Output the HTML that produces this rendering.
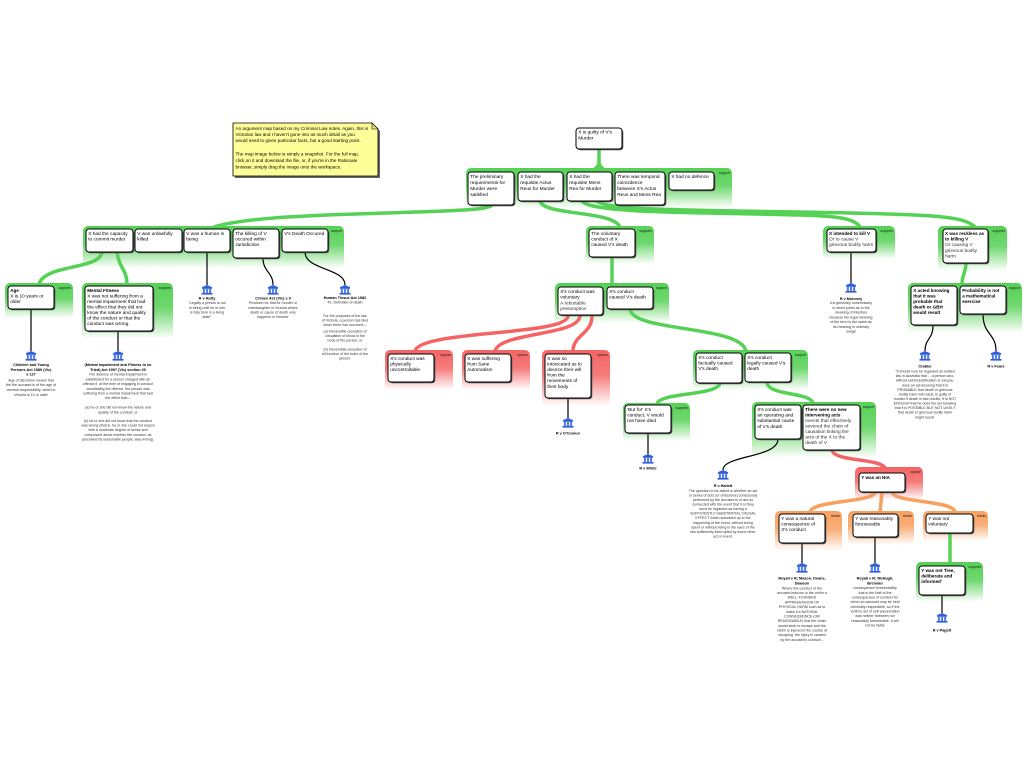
<!DOCTYPE html>
<html>
<head>
<meta charset="utf-8">
<style>
html,body{margin:0;padding:0;background:#fff;}
svg{display:block;}
.t{font-family:"Liberation Sans",sans-serif;font-size:4.8px;fill:#000;}
.b{font-weight:bold;font-size:4.6px;}
.e{font-family:"Liberation Sans",sans-serif;font-size:3.6px;fill:#333;text-anchor:middle;}
.eb{font-family:"Liberation Sans",sans-serif;font-size:3.8px;fill:#000;font-weight:bold;text-anchor:middle;}
.lab{font-family:"Liberation Sans",sans-serif;font-size:3.3px;fill:#222;text-anchor:end;}
.note{font-family:"Liberation Sans",sans-serif;font-size:4.6px;fill:#000;}
.box{fill:#fff;stroke:#000;stroke-width:1;}
.sh{fill:#555;}
.cg{fill:none;stroke:#55d155;stroke-width:3.5;stroke-linecap:round;}
.cr{fill:none;stroke:#f46464;stroke-width:3.5;stroke-linecap:round;}
.co{fill:none;stroke:#f8a060;stroke-width:3.5;stroke-linecap:round;}
.bl{fill:none;stroke:#000;stroke-width:1.2;}
</style>
</head>
<body>
<svg width="1024" height="768" viewBox="0 0 1024 768" xmlns="http://www.w3.org/2000/svg">
<defs>
<linearGradient id="gG" x1="0" y1="0" x2="0" y2="1">
<stop offset="0" stop-color="#55d155" stop-opacity="1"/>
<stop offset="0.45" stop-color="#55d155" stop-opacity="0.85"/>
<stop offset="1" stop-color="#55d155" stop-opacity="0"/>
</linearGradient>
<linearGradient id="gR" x1="0" y1="0" x2="0" y2="1">
<stop offset="0" stop-color="#f46464" stop-opacity="1"/>
<stop offset="0.45" stop-color="#f46464" stop-opacity="0.85"/>
<stop offset="1" stop-color="#f46464" stop-opacity="0"/>
</linearGradient>
<linearGradient id="gO" x1="0" y1="0" x2="0" y2="1">
<stop offset="0" stop-color="#f8a060" stop-opacity="1"/>
<stop offset="0.45" stop-color="#f8a060" stop-opacity="0.85"/>
<stop offset="1" stop-color="#f8a060" stop-opacity="0"/>
</linearGradient>
<g id="ic">
<rect x="-5" y="-4.5" width="10" height="9" fill="#e6eeff"/>
<path d="M-5.5,-2.5 L0,-5 L5.5,-2.5 Z" fill="#2f5fd6"/>
<rect x="-5" y="-2.6" width="10" height="1.4" fill="#2f5fd6"/>
<rect x="-4" y="-1" width="1.8" height="4" fill="#4a78e0"/>
<rect x="-0.9" y="-1" width="1.8" height="4" fill="#4a78e0"/>
<rect x="2.2" y="-1" width="1.8" height="4" fill="#4a78e0"/>
<rect x="-5.5" y="3" width="11" height="1.6" fill="#2f5fd6"/>
</g>
</defs>
<rect width="1024" height="768" fill="#fff"/>

<!-- BANDS -->
<rect x="466" y="168" width="266" height="40" rx="5" fill="url(#gG)"/>
<rect x="83" y="226" width="261" height="42" rx="5" fill="url(#gG)"/>
<rect x="5" y="283" width="68" height="35" rx="5" fill="url(#gG)"/>
<rect x="82" y="283" width="91" height="56" rx="5" fill="url(#gG)"/>
<rect x="586" y="226" width="68" height="38" rx="5" fill="url(#gG)"/>
<rect x="555" y="283" width="114" height="40" rx="5" fill="url(#gG)"/>
<rect x="385" y="350" width="68" height="40" rx="5" fill="url(#gR)"/>
<rect x="462" y="350" width="68" height="40" rx="5" fill="url(#gR)"/>
<rect x="542" y="350" width="68" height="56" rx="5" fill="url(#gR)"/>
<rect x="693" y="350" width="115" height="40" rx="5" fill="url(#gG)"/>
<rect x="623" y="403" width="67" height="38" rx="5" fill="url(#gG)"/>
<rect x="752" y="402" width="124" height="56" rx="5" fill="url(#gG)"/>
<rect x="855" y="467" width="68" height="33" rx="5" fill="url(#gR)"/>
<rect x="775" y="511" width="67" height="40" rx="5" fill="url(#gO)"/>
<rect x="848" y="511" width="66" height="34" rx="5" fill="url(#gO)"/>
<rect x="923" y="511" width="65" height="30" rx="5" fill="url(#gO)"/>
<rect x="916" y="562" width="67" height="40" rx="5" fill="url(#gG)"/>
<rect x="823" y="226" width="72" height="33" rx="5" fill="url(#gG)"/>
<rect x="938" y="226" width="69" height="45" rx="5" fill="url(#gG)"/>
<rect x="908" y="283" width="114" height="50" rx="5" fill="url(#gG)"/>

<!-- band labels -->
<text class="lab" x="730" y="174">support</text>
<text class="lab" x="342" y="232">support</text>
<text class="lab" x="71" y="289">supports</text>
<text class="lab" x="171" y="289">supports</text>
<text class="lab" x="652" y="232">supports</text>
<text class="lab" x="667" y="289">support</text>
<text class="lab" x="451" y="356">oppose</text>
<text class="lab" x="528" y="356">oppose</text>
<text class="lab" x="608" y="356">oppose</text>
<text class="lab" x="806" y="356">support</text>
<text class="lab" x="688" y="409">supports</text>
<text class="lab" x="874" y="408">support</text>
<text class="lab" x="921" y="473">oppose</text>
<text class="lab" x="840" y="517">rebuts</text>
<text class="lab" x="912" y="517">rebuts</text>
<text class="lab" x="986" y="517">rebuts</text>
<text class="lab" x="981" y="568">supports</text>
<text class="lab" x="893" y="232">supports</text>
<text class="lab" x="1005" y="232">supports</text>
<text class="lab" x="1020" y="289">support</text>

<!-- CONNECTORS -->
<path class="cg" d="M599,149 L599,169"/>
<path d="M592,169 Q598,165 598,160 L600,160 Q600,165 606,169 Z" fill="#55d155"/>
<path class="cg" d="M492,205 C488,216 270,209 214,227"/>
<path class="cg" d="M540,201 C544,216 612,210 620,227"/>
<path class="cg" d="M582,201 C592,214 700,212 800,215 C840,216 855,219 860,227"/>
<path class="cg" d="M597,201 C606,211 700,210 850,213 C940,215 965,217 975,227"/>
<path class="cg" d="M102,252 C100,270 45,264 39,284"/>
<path class="cg" d="M117,252 C119,268 127,270 127,284"/>
<path class="cg" d="M612,257 L612,284"/>
<path class="cr" d="M568,316 C566,336 420,330 415,351"/>
<path class="cr" d="M580,316 C578,336 500,332 495,351"/>
<path class="cr" d="M592,316 C592,334 573,335 573,351"/>
<path d="M564,316 L572,316 L568,312 Z" fill="#f46464"/>
<path d="M576,316 L584,316 L580,312 Z" fill="#f46464"/>
<path d="M588,316 L596,316 L592,312 Z" fill="#f46464"/>
<path class="cg" d="M630,309 C632,332 740,325 746,351"/>
<path class="cg" d="M720,383 C718,396 660,392 657,404"/>
<path class="cg" d="M767,383 C770,396 810,392 813,403"/>
<path class="cr" d="M832,450 C834,462 880,458 885,468"/>
<path class="co" d="M875,492 C873,503 812,500 810,512"/>
<path class="co" d="M882,492 L880,512"/>
<path class="co" d="M892,492 C894,503 953,500 955,512"/>
<path class="cg" d="M950,533 L950,563"/>
<path class="cg" d="M966,263 C966,272 962,275 962,284"/>

<!-- BLACK LINES -->
<path class="bl" d="M31,309 L31,351"/>
<path class="bl" d="M118,331 L118,351"/>
<path class="bl" d="M207,252 L207,285"/>
<path class="bl" d="M263,258 C263,272 273,272 273,285"/>
<path class="bl" d="M305,252 C305,270 345,268 345,285"/>
<path class="bl" d="M568,398 L568,418"/>
<path class="bl" d="M648,433 L648,454"/>
<path class="bl" d="M778,439 C778,458 723,455 723,470"/>
<path class="bl" d="M802,543 L802,563"/>
<path class="bl" d="M875,537 L875,563"/>
<path class="bl" d="M942,595 L942,613"/>
<path class="bl" d="M851,252 L851,283"/>
<path class="bl" d="M933,325 C933,340 925,338 925,351"/>
<path class="bl" d="M983,314 C983,335 996,333 996,351"/>

<!-- ICONS -->
<use href="#ic" x="31" y="356"/>
<use href="#ic" x="118" y="356"/>
<use href="#ic" x="207" y="290"/>
<use href="#ic" x="273" y="290"/>
<use href="#ic" x="345" y="290"/>
<use href="#ic" x="568" y="423"/>
<use href="#ic" x="648" y="459"/>
<use href="#ic" x="723" y="475"/>
<use href="#ic" x="802" y="568"/>
<use href="#ic" x="875" y="568"/>
<use href="#ic" x="942" y="618"/>
<use href="#ic" x="851" y="288"/>
<use href="#ic" x="925" y="356"/>
<use href="#ic" x="996" y="356"/>

<!-- BOXES (shadow + box) -->
<g>
<rect class="sh" x="577.3" y="129.3" width="46" height="21" rx="3"/><rect class="box" x="576" y="128" width="46" height="21" rx="3"/>
<rect class="sh" x="469.3" y="173.3" width="46" height="33" rx="3"/><rect class="box" x="468" y="172" width="46" height="33" rx="3"/>
<rect class="sh" x="519.3" y="173.3" width="45" height="29" rx="3"/><rect class="box" x="518" y="172" width="45" height="29" rx="3"/>
<rect class="sh" x="568.3" y="173.3" width="45" height="29" rx="3"/><rect class="box" x="567" y="172" width="45" height="29" rx="3"/>
<rect class="sh" x="616.3" y="173.3" width="50" height="33" rx="3"/><rect class="box" x="615" y="172" width="50" height="33" rx="3"/>
<rect class="sh" x="670.3" y="173.3" width="45" height="18" rx="3"/><rect class="box" x="669" y="172" width="45" height="18" rx="3"/>

<rect class="sh" x="87.3" y="230.3" width="47" height="23" rx="3"/><rect class="box" x="86" y="229" width="47" height="23" rx="3"/>
<rect class="sh" x="136.3" y="230.3" width="47" height="23" rx="3"/><rect class="box" x="135" y="229" width="47" height="23" rx="3"/>
<rect class="sh" x="185.3" y="230.3" width="46" height="23" rx="3"/><rect class="box" x="184" y="229" width="46" height="23" rx="3"/>
<rect class="sh" x="234.3" y="230.3" width="46" height="29" rx="3"/><rect class="box" x="233" y="229" width="46" height="29" rx="3"/>
<rect class="sh" x="283.3" y="230.3" width="46" height="23" rx="3"/><rect class="box" x="282" y="229" width="46" height="23" rx="3"/>

<rect class="sh" x="9.3" y="287.3" width="46" height="23" rx="3"/><rect class="box" x="8" y="286" width="46" height="23" rx="3"/>
<rect class="sh" x="86.3" y="287.3" width="68" height="45" rx="3"/><rect class="box" x="85" y="286" width="68" height="45" rx="3"/>

<rect class="sh" x="590.3" y="230.3" width="46" height="28" rx="3"/><rect class="box" x="589" y="229" width="46" height="28" rx="3"/>
<rect class="sh" x="559.3" y="288.3" width="45" height="28" rx="3"/><rect class="box" x="558" y="287" width="45" height="28" rx="3"/>
<rect class="sh" x="608.3" y="288.3" width="46" height="22" rx="3"/><rect class="box" x="607" y="287" width="46" height="22" rx="3"/>
<rect class="sh" x="389.3" y="355.3" width="46" height="28" rx="3"/><rect class="box" x="388" y="354" width="46" height="28" rx="3"/>
<rect class="sh" x="466.3" y="355.3" width="46" height="28" rx="3"/><rect class="box" x="465" y="354" width="46" height="28" rx="3"/>
<rect class="sh" x="546.3" y="355.3" width="46" height="44" rx="3"/><rect class="box" x="545" y="354" width="46" height="44" rx="3"/>
<rect class="sh" x="697.3" y="354.3" width="46" height="30" rx="3"/><rect class="box" x="696" y="353" width="46" height="30" rx="3"/>
<rect class="sh" x="746.3" y="354.3" width="46" height="29" rx="3"/><rect class="box" x="745" y="353" width="46" height="29" rx="3"/>
<rect class="sh" x="626.3" y="406.3" width="46" height="28" rx="3"/><rect class="box" x="625" y="405" width="46" height="28" rx="3"/>
<rect class="sh" x="756.3" y="406.3" width="46" height="34" rx="3"/><rect class="box" x="755" y="405" width="46" height="34" rx="3"/>
<rect class="sh" x="804.3" y="406.3" width="57" height="45" rx="3"/><rect class="box" x="803" y="405" width="57" height="45" rx="3"/>
<rect class="sh" x="860.3" y="474.3" width="46" height="19" rx="3"/><rect class="box" x="859" y="473" width="46" height="19" rx="3"/>
<rect class="sh" x="780.3" y="515.3" width="46" height="29" rx="3"/><rect class="box" x="779" y="514" width="46" height="29" rx="3"/>
<rect class="sh" x="854.3" y="515.3" width="45" height="23" rx="3"/><rect class="box" x="853" y="514" width="45" height="23" rx="3"/>
<rect class="sh" x="927.3" y="515.3" width="47" height="19" rx="3"/><rect class="box" x="926" y="514" width="47" height="19" rx="3"/>
<rect class="sh" x="920.3" y="567.3" width="46" height="29" rx="3"/><rect class="box" x="919" y="566" width="46" height="29" rx="3"/>
<rect class="sh" x="828.3" y="230.3" width="49" height="23" rx="3"/><rect class="box" x="827" y="229" width="49" height="23" rx="3"/>
<rect class="sh" x="944.3" y="230.3" width="45" height="34" rx="3"/><rect class="box" x="943" y="229" width="45" height="34" rx="3"/>
<rect class="sh" x="912.3" y="287.3" width="46" height="39" rx="3"/><rect class="box" x="911" y="286" width="46" height="39" rx="3"/>
<rect class="sh" x="961.3" y="287.3" width="46" height="28" rx="3"/><rect class="box" x="960" y="286" width="46" height="28" rx="3"/>
</g>

<!-- BOX TEXT -->
<text class="t" y="133.5"><tspan x="578.2">X is guilty of V's</tspan><tspan x="578.2" dy="5.8">Murder</tspan></text>

<text class="t" y="177.8"><tspan x="470.2">The preliminary</tspan><tspan x="470.2" dy="6">requirements for</tspan><tspan x="470.2" dy="6">Murder were</tspan><tspan x="470.2" dy="6">satisfied</tspan></text>
<text class="t" y="177.8"><tspan x="520.2">X had the</tspan><tspan x="520.2" dy="6">requisite Actus</tspan><tspan x="520.2" dy="6">Reus for Murder</tspan></text>
<text class="t" y="177.8"><tspan x="569.2">X had the</tspan><tspan x="569.2" dy="6">requisite Mens</tspan><tspan x="569.2" dy="6">Rea for Murder</tspan></text>
<text class="t" y="177.8"><tspan x="617.2">There was temporal</tspan><tspan x="617.2" dy="6">coincidence</tspan><tspan x="617.2" dy="6">between X's Actus</tspan><tspan x="617.2" dy="6">Reus and Mens Rea</tspan></text>
<text class="t" y="177.8"><tspan x="671.2">X had no defence</tspan></text>

<text class="t" y="234.8"><tspan x="88.2">X had the capacity</tspan><tspan x="88.2" dy="5.7">to commit murder</tspan></text>
<text class="t" y="234.8"><tspan x="137.2">V was unlawfully</tspan><tspan x="137.2" dy="5.7">killed</tspan></text>
<text class="t" y="234.8"><tspan x="186.2">V was a human in</tspan><tspan x="186.2" dy="5.7">being</tspan></text>
<text class="t" y="234.8"><tspan x="235.2">The killing of V</tspan><tspan x="235.2" dy="5.7">occured within</tspan><tspan x="235.2" dy="5.7">Jurisdiction</tspan></text>
<text class="t" y="234.8"><tspan x="284.2">V's Death Occured</tspan></text>

<text class="t" y="291.8"><tspan x="10.2" class="b">Age</tspan><tspan x="10.2" dy="5.7">X is 10 years or</tspan><tspan x="10.2" dy="5.7">older</tspan></text>
<text class="t" y="291.8"><tspan x="87.2" class="b">Mental Fitness</tspan><tspan x="87.2" dy="5.5">X was not suffering from a</tspan><tspan x="87.2" dy="5.5">mental impairment that had</tspan><tspan x="87.2" dy="5.5">the effect that they did not</tspan><tspan x="87.2" dy="5.5">know the nature and quality</tspan><tspan x="87.2" dy="5.5">of the conduct or that the</tspan><tspan x="87.2" dy="5.5">conduct was wrong.</tspan></text>

<text class="t" y="234.8"><tspan x="591.2">The voluntary</tspan><tspan x="591.2" dy="5.7">conduct of X</tspan><tspan x="591.2" dy="5.7">caused V's death</tspan></text>
<text class="t" y="292.8"><tspan x="560.2">X's conduct was</tspan><tspan x="560.2" dy="5.7">voluntary</tspan><tspan x="560.2" dy="6" fill="#333">A rebuttable</tspan><tspan x="560.2" dy="5.5" fill="#333">presumption</tspan></text>
<text class="t" y="292.8"><tspan x="609.2">X's conduct</tspan><tspan x="609.2" dy="5.7">caused V's death</tspan></text>
<text class="t" y="359.8"><tspan x="390.2">X's conduct was</tspan><tspan x="390.2" dy="5.7">physically</tspan><tspan x="390.2" dy="5.7">uncontrollable</tspan></text>
<text class="t" y="359.8"><tspan x="467.2">X was suffering</tspan><tspan x="467.2" dy="5.7">from Sane</tspan><tspan x="467.2" dy="5.7">Automatism</tspan></text>
<text class="t" y="359.8"><tspan x="547.2">X was so</tspan><tspan x="547.2" dy="5.6">intoxicated as to</tspan><tspan x="547.2" dy="5.6">divorce their will</tspan><tspan x="547.2" dy="5.6">from the</tspan><tspan x="547.2" dy="5.6">movements of</tspan><tspan x="547.2" dy="5.6">their body</tspan></text>
<text class="t" y="358.8"><tspan x="698.2">X's conduct</tspan><tspan x="698.2" dy="5.7">factually caused</tspan><tspan x="698.2" dy="5.7">V's death</tspan></text>
<text class="t" y="358.8"><tspan x="747.2">X's conduct</tspan><tspan x="747.2" dy="5.7">legally caused V's</tspan><tspan x="747.2" dy="5.7">death</tspan></text>
<text class="t" y="410.8"><tspan x="627.2">'But for' X's</tspan><tspan x="627.2" dy="5.7">conduct, V would</tspan><tspan x="627.2" dy="5.7">not have died</tspan></text>
<text class="t" y="410.8"><tspan x="757.2">X's conduct was</tspan><tspan x="757.2" dy="5.7">an operating and</tspan><tspan x="757.2" dy="5.7">substantial cause</tspan><tspan x="757.2" dy="5.7">of V's death</tspan></text>
<text class="t" y="410.8"><tspan x="805.2" class="b">There were no new</tspan><tspan x="805.2" dy="5.5" class="b">intervening acts</tspan><tspan x="805.2" dy="5.5" fill="#333">events that effectively</tspan><tspan x="805.2" dy="5.5" fill="#333">severed the chain of</tspan><tspan x="805.2" dy="5.5" fill="#333">causation linking the</tspan><tspan x="805.2" dy="5.5" fill="#333">acts of the X to the</tspan><tspan x="805.2" dy="5.5" fill="#333">death of V</tspan></text>
<text class="t b" y="478.8"><tspan x="861.2">Y was an NIA</tspan></text>
<text class="t" y="519.8"><tspan x="781.2">Y was a natural</tspan><tspan x="781.2" dy="5.7">consequence of</tspan><tspan x="781.2" dy="5.7">X's conduct</tspan></text>
<text class="t" y="519.8"><tspan x="855.2">Y was reasonably</tspan><tspan x="855.2" dy="5.7">foreseeable</tspan></text>
<text class="t" y="519.8"><tspan x="928.2">Y was not</tspan><tspan x="928.2" dy="5.7">voluntary</tspan></text>
<text class="t b" y="571.8"><tspan x="921.2">Y was not 'free,</tspan><tspan x="921.2" dy="5.7">deliberate and</tspan><tspan x="921.2" dy="5.7">informed'</tspan></text>
<text class="t" y="234.8"><tspan x="829" class="b">X intended to kill V</tspan><tspan x="829" dy="5.7" fill="#333">Or to cause V</tspan><tspan x="829" dy="5.7" fill="#333">grievous bodily harm</tspan></text>
<text class="t" y="234.8"><tspan x="945" class="b">X was reckless as</tspan><tspan x="945" dy="5.6" class="b">to killing V</tspan><tspan x="945" dy="5.8" fill="#333">Or causing V</tspan><tspan x="945" dy="5.6" fill="#333">grievous bodily</tspan><tspan x="945" dy="5.6" fill="#333">harm</tspan></text>
<text class="t b" y="291.8"><tspan x="913.2">X acted knowing</tspan><tspan x="913.2" dy="5.5">that it was</tspan><tspan x="913.2" dy="5.5">probable that</tspan><tspan x="913.2" dy="5.5">death or GBH</tspan><tspan x="913.2" dy="5.5">would result</tspan></text>
<text class="t b" y="291.8"><tspan x="962.2">Probability is not</tspan><tspan x="962.2" dy="5.5">a mathematical</tspan><tspan x="962.2" dy="5.5">exercise</tspan></text>

<!-- EVIDENCE TEXT -->
<text class="eb" y="366"><tspan x="31">Children and Young</tspan><tspan x="31" dy="4.8">Persons Act 1989 (Vic)</tspan><tspan x="31" dy="4.8">s 127</tspan></text>
<text class="e" y="381.4"><tspan x="31">Age of discretion means that</tspan><tspan x="31" dy="4.8">the the accused is of the age of</tspan><tspan x="31" dy="4.8">criminal responsibility, which in</tspan><tspan x="31" dy="4.8">Victoria is 10 or older</tspan></text>

<text class="eb" y="366"><tspan x="118">(Mental impairment and Fitness to be</tspan><tspan x="118" dy="4.8">Tried) Act 1997 (Vic) section 20</tspan></text>
<text class="e" y="375.7"><tspan x="118">The defence of mental impairment is</tspan><tspan x="118" dy="4.7">established for a person charged with an</tspan><tspan x="118" dy="4.7">offence if, at the time of engaging in conduct</tspan><tspan x="118" dy="4.7">constituting the offence, the person was</tspan><tspan x="118" dy="4.7">suffering from a mental impairment that had</tspan><tspan x="118" dy="4.7">the effect that—</tspan></text>
<text class="e" y="408.7"><tspan x="118">(a) he or she did not know the nature and</tspan><tspan x="118" dy="4.6">quality of the conduct; or</tspan></text>
<text class="e" y="422"><tspan x="118">(b) he or she did not know that the conduct</tspan><tspan x="118" dy="4.6">was wrong (that is, he or she could not reason</tspan><tspan x="118" dy="4.6">with a moderate degree of sense and</tspan><tspan x="118" dy="4.6">composure about whether the conduct, as</tspan><tspan x="118" dy="4.6">perceived by reasonable people, was wrong).</tspan></text>

<text class="eb" x="207" y="299.5">R v Hutty</text>
<text class="e" y="304.2"><tspan x="207">"Legally a person is not</tspan><tspan x="207" dy="4.6">in being until he or she</tspan><tspan x="207" dy="4.6">is fully born in a living</tspan><tspan x="207" dy="4.6">state"</tspan></text>

<text class="eb" x="273" y="299.5">Crimes Act (Vic) s 9</text>
<text class="e" y="304.2"><tspan x="273">Provision for trial for murder or</tspan><tspan x="273" dy="4.6">manslaughter in Victoria where</tspan><tspan x="273" dy="4.6">death or cause of death only</tspan><tspan x="273" dy="4.6">happens in Victoria"</tspan></text>

<text class="eb" y="299.2"><tspan x="345">Human Tissue Act 1982</tspan></text>
<text class="e" y="303.7"><tspan x="345">41. Definition of death</tspan></text>
<text class="e" y="317"><tspan x="345">For the purposes of the law</tspan><tspan x="345" dy="4.5">of Victoria, a person has died</tspan><tspan x="345" dy="4.5">when there has occurred—</tspan></text>
<text class="e" y="332.5"><tspan x="345">(a) irreversible cessation of</tspan><tspan x="345" dy="4.5">circulation of blood in the</tspan><tspan x="345" dy="4.5">body of the person; or</tspan></text>
<text class="e" y="350.5"><tspan x="345">(b) irreversible cessation of</tspan><tspan x="345" dy="4.5">all function of the brain of the</tspan><tspan x="345" dy="4.5">person.</tspan></text>

<text class="eb" x="568" y="434.5">R v O'Connor</text>
<text class="eb" x="648" y="469.5">R v White</text>

<text class="eb" x="723" y="487">R v Hallett</text>
<text class="e" y="491.8"><tspan x="723">The question to be asked is whether an act</tspan><tspan x="723" dy="4.57">or series of acts (or omissions) consciously</tspan><tspan x="723" dy="4.57">performed by the accused is or are so</tspan><tspan x="723" dy="4.57">connected with the event that it or they</tspan><tspan x="723" dy="4.57">must be regarded as having a</tspan><tspan x="723" dy="4.57">SUFFICIENTLY SUBSTANTIAL CAUSAL</tspan><tspan x="723" dy="4.57">EFFECT which subsisted up to the</tspan><tspan x="723" dy="4.57">happening of the event, without being</tspan><tspan x="723" dy="4.57">spent or without being in the eyes of the</tspan><tspan x="723" dy="4.57">law sufficiently interrupted by some other</tspan><tspan x="723" dy="4.57">act or event.</tspan></text>

<text class="eb" y="579.7"><tspan x="802">Royall v R; Mason, Deane,</tspan><tspan x="802" dy="5">Dawson</tspan></text>
<text class="e" y="589.4"><tspan x="802">Where the conduct of the</tspan><tspan x="802" dy="4.67">accused induces in the victim a</tspan><tspan x="802" dy="4.67">WELL-FOUNDED</tspan><tspan x="802" dy="4.67">APPREHENSION OF</tspan><tspan x="802" dy="4.67">PHYSICAL HARM such as to</tspan><tspan x="802" dy="4.67">make it a NATURAL</tspan><tspan x="802" dy="4.67">CONSEQUENCE (OR</tspan><tspan x="802" dy="4.67">REASONABLE) that the victim</tspan><tspan x="802" dy="4.67">would seek to escape and the</tspan><tspan x="802" dy="4.67">victim is injured in the course of</tspan><tspan x="802" dy="4.67">escaping, the injury is caused</tspan><tspan x="802" dy="4.67">by the accused's conduct...</tspan></text>

<text class="eb" y="579.7"><tspan x="875">Royall v R; McHugh,</tspan><tspan x="875" dy="5">Brennan</tspan></text>
<text class="e" y="589.1"><tspan x="875">consequence foreseeability</tspan><tspan x="875" dy="4.67">that is the limit of the</tspan><tspan x="875" dy="4.67">consequences of conduct for</tspan><tspan x="875" dy="4.67">which an accused may be held</tspan><tspan x="875" dy="4.67">criminally responsible, so if the</tspan><tspan x="875" dy="4.67">victim's act of self-preservation</tspan><tspan x="875" dy="4.67">was neither foreseen nor</tspan><tspan x="875" dy="4.67">reasonably foreseeable, it will</tspan><tspan x="875" dy="4.67">not be liable</tspan></text>

<text class="eb" x="942" y="631.4">R v Pagett</text>

<text class="eb" x="851" y="299.8">R v Moloney</text>
<text class="e" y="304.2"><tspan x="851">it is generally unnecessary</tspan><tspan x="851" dy="4.75">to direct juries as to the</tspan><tspan x="851" dy="4.75">meaning of intention</tspan><tspan x="851" dy="4.75">because the legal meaning</tspan><tspan x="851" dy="4.75">of the term is the same as</tspan><tspan x="851" dy="4.75">its meaning in ordinary</tspan><tspan x="851" dy="4.75">usage</tspan></text>

<text class="eb" x="925" y="367.4">Crabbe</text>
<text class="e" y="372.6"><tspan x="925">"It should now be regarded as settled</tspan><tspan x="925" dy="4.57">law in Australia that ... a person who,</tspan><tspan x="925" dy="4.57">without lawful justification or excuse,</tspan><tspan x="925" dy="4.57">does an act knowing that it is</tspan><tspan x="925" dy="4.57">PROBABLE that death or grievous</tspan><tspan x="925" dy="4.57">bodily harm will result, is guilty of</tspan><tspan x="925" dy="4.57">murder if death in fact results. It is NOT</tspan><tspan x="925" dy="4.57">ENOUGH that he does the act knowing</tspan><tspan x="925" dy="4.57">that it is POSSIBLE BUT NOT LIKELY</tspan><tspan x="925" dy="4.57">that death or grievous bodily harm</tspan><tspan x="925" dy="4.57">might result.</tspan></text>

<text class="eb" x="996" y="367.4">R v Fears</text>

<!-- NOTE -->
<path d="M235,125 H374 L380,131 V178 H235 Z" fill="#666"/>
<path d="M233,123 H372 L378,129 V176 H233 Z" fill="#ffff99" stroke="#000" stroke-width="0.8"/>
<path d="M372,123 V129 H378 Z" fill="#e8e87a" stroke="#000" stroke-width="0.6"/>
<text class="note" y="130"><tspan x="235.5">An argument map based on my Criminal Law notes. Again, this is</tspan><tspan x="235.5" dy="6">Victorian law and I haven't gone into as much detail as you</tspan><tspan x="235.5" dy="6">would need to given particular facts, but a good starting point.</tspan></text>
<text class="note" y="155.5"><tspan x="235.5">The map image below is simply a snapshot. For the full map,</tspan><tspan x="235.5" dy="6.5">click on it and download the file, or, if you're in the Rationale</tspan><tspan x="235.5" dy="6.5">browser, simply drag the image onto the workspace.</tspan></text>
</svg>
</body>
</html>
